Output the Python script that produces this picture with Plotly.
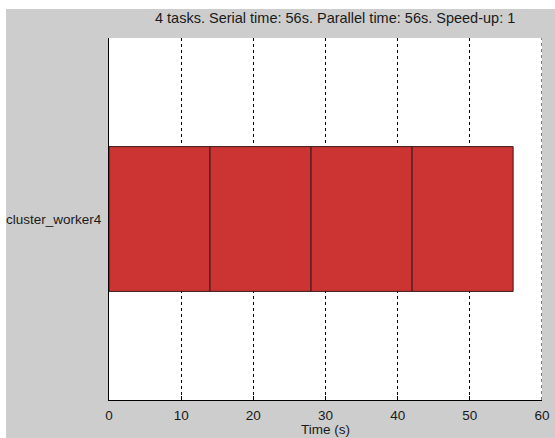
import plotly.graph_objects as go

# Task schedule on the single worker
worker = "cluster_worker4"
task_starts = [0, 14, 28, 42]
task_durations = [14, 14, 14, 14]
x_ticks = [0, 10, 20, 30, 40, 50, 60]
title_text = "4 tasks. Serial time: 56s. Parallel time: 56s. Speed-up: 1"

W, H = 555, 438
L, R, T, B = 109, 13, 38, 38
GRAY = "#CDCDCD"
FONT = "Liberation Sans, Arial, sans-serif"
TXT = "#1a1a1a"

fig = go.Figure()
fig.add_trace(go.Bar(
    orientation="h",
    y=[worker] * len(task_starts),
    x=task_durations,
    base=task_starts,
    width=0.4,
    marker=dict(color="#CC3333", line=dict(color="#3a1a1a", width=1)),
    hoverinfo="x",
))

pw = W - L - R
ph = H - T - B

def px_x(p):
    return (p - L) / pw

def px_y(p):
    return 1 - (p - T) / ph

shapes = [
    # grey figure panel behind the axes
    dict(type="rect", xref="paper", yref="paper", layer="below",
         x0=px_x(6), x1=px_x(W + 5), y0=px_y(9), y1=px_y(H + 5),
         fillcolor=GRAY, line=dict(width=0)),
    # white plot area
    dict(type="rect", xref="paper", yref="paper", layer="below",
         x0=0, x1=1, y0=0, y1=1, fillcolor="white", line=dict(width=0)),
]
# dashed grid line on the right-hand limit
shapes.append(dict(type="line", xref="x", yref="paper", layer="above",
                   x0=x_ticks[-1], x1=x_ticks[-1], y0=0, y1=1,
                   line=dict(color="black", width=1, dash="3px,3px")))

fig.update_layout(
    width=W, height=H,
    margin=dict(l=L, r=R, t=T, b=B, autoexpand=False),
    paper_bgcolor="white",
    plot_bgcolor="white",
    showlegend=False,
    barmode="overlay",
    font=dict(family=FONT, size=13, color=TXT),
    shapes=shapes,
    annotations=[
        dict(text=title_text, xref="paper", yref="paper",
             x=px_x(335), y=px_y(18), showarrow=False,
             xanchor="center", yanchor="middle",
             font=dict(family=FONT, size=14.5, color=TXT)),
        dict(text="Time (s)", xref="paper", yref="paper",
             x=px_x(325), y=px_y(430), showarrow=False,
             xanchor="center", yanchor="middle",
             font=dict(family=FONT, size=13.5, color=TXT)),
    ],
)

fig.update_xaxes(
    range=[0, 60], tickvals=x_ticks, ticktext=[str(v) for v in x_ticks],
    showgrid=True, gridcolor="black", gridwidth=1, griddash="3px,3px",
    showline=True, linecolor="black", linewidth=1, mirror=False,
    ticks="inside", ticklen=4, tickcolor="black",
    zeroline=False, ticklabelstandoff=3, automargin=False,
    tickfont=dict(size=13.5),
)
fig.update_yaxes(
    range=[-0.5, 0.5], showgrid=False,
    showline=True, linecolor="black", linewidth=1,
    ticks="", zeroline=False, tickfont=dict(size=13.5),
    ticklabelstandoff=4, automargin=False,
)

fig.write_html("out.html")
